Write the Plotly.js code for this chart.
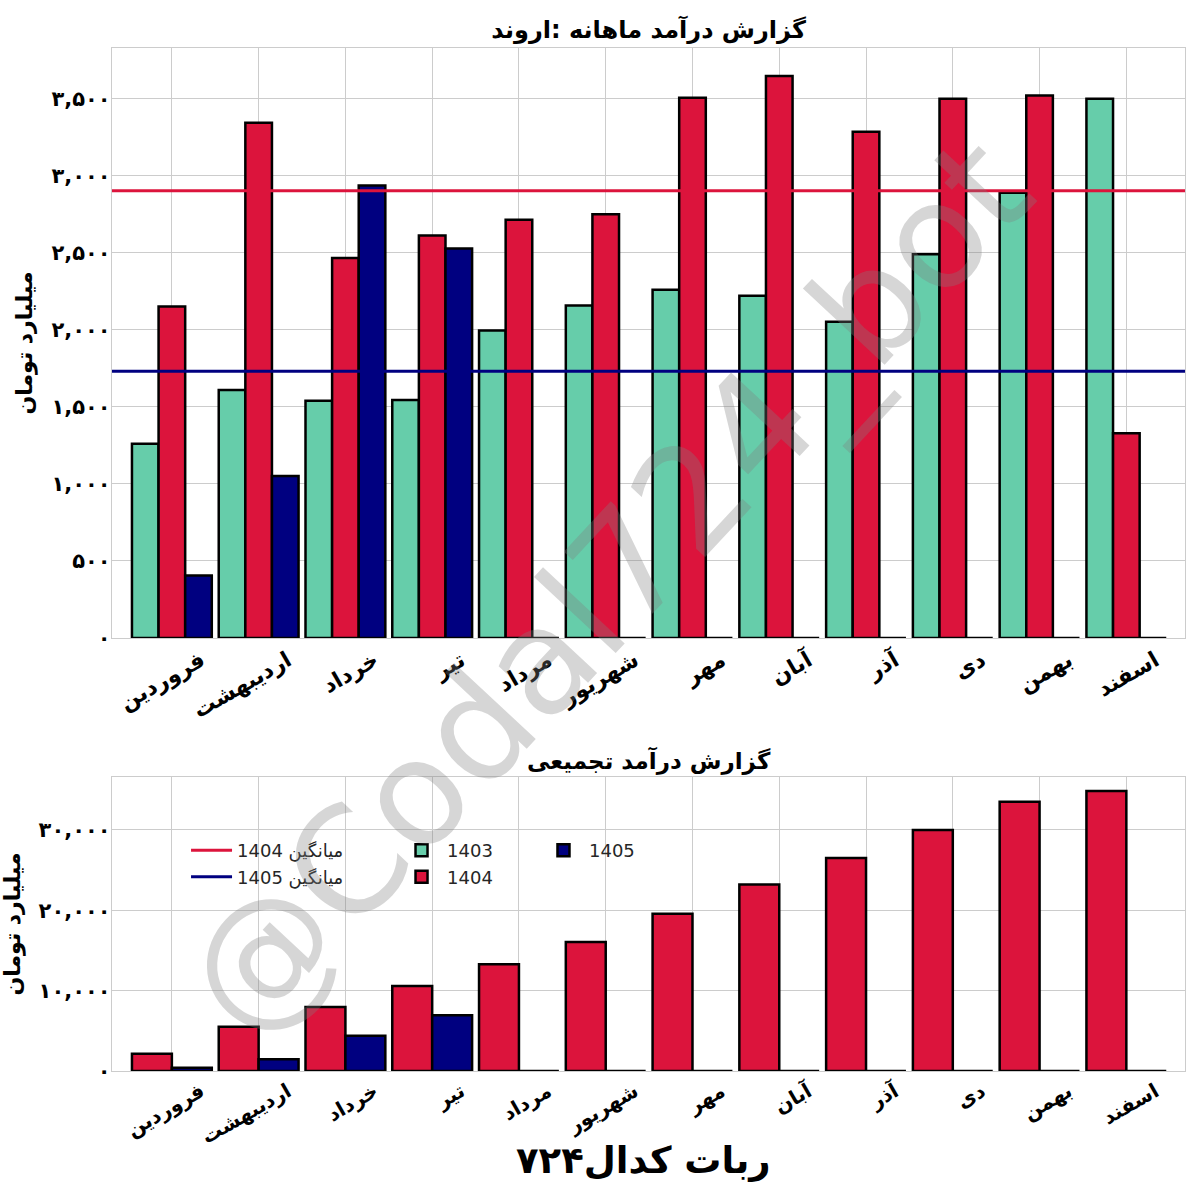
<!DOCTYPE html>
<html>
<head>
<meta charset="utf-8">
<script src="https://cdn.plot.ly/plotly-3.0.1.min.js"></script>
<style>
  html, body { margin: 0; padding: 0; background: #ffffff; }
  #chart { width: 1200px; height: 1200px; }
</style>
</head>
<body>
<div id="chart"></div>
<script>
// ---------- data ----------
var months = ['فروردین', 'اردیبهشت', 'خرداد', 'تیر', 'مرداد', 'شهریور', 'مهر', 'آبان', 'آذر', 'دی', 'بهمن', 'اسفند'];

var rev1403 = [1260, 1610, 1539, 1545, 1996, 2158, 2260, 2221, 2052, 2491, 2890, 3500];
var rev1404 = [2151, 3344, 2467, 2612, 2714, 2751, 3506, 3647, 3286, 3500, 3521, 1329];
var rev1405 = [405, 1052, 2937, 2528, 0, 0, 0, 0, 0, 0, 0, 0];

var cum1404 = [2151, 5495, 7962, 10574, 13288, 16039, 19545, 23192, 26478, 29978, 33499, 34828];
var cum1405 = [405, 1457, 4394, 6922, 0, 0, 0, 0, 0, 0, 0, 0];

var yTickVals1 = [0, 500, 1000, 1500, 2000, 2500, 3000, 3500];
var yTickText1 = ['۰', '۵۰۰', '۱,۰۰۰', '۱,۵۰۰', '۲,۰۰۰', '۲,۵۰۰', '۳,۰۰۰', '۳,۵۰۰'];
var yTickVals2 = [0, 10000, 20000, 30000];
var yTickText2 = ['۰', '۱۰,۰۰۰', '۲۰,۰۰۰', '۳۰,۰۰۰'];

var seriesNames = ['1403', '1404', '1405'];
var avgNames = ['میانگین 1404', 'میانگین 1405'];

var titleTop = 'گزارش درآمد ماهانه :اروند';
var titleBottom = 'گزارش درآمد تجمیعی';
var yTitle = 'میلیارد تومان';
var caption = 'ربات کدال۷۲۴';
var watermark = '@Codal724_bot';

// ---------- derived statistics ----------
function mean(arr) {
  var v = arr.filter(function (d) { return d > 0; });
  return v.reduce(function (a, b) { return a + b; }, 0) / v.length;
}
var avg1404 = mean(rev1404);
var avg1405 = mean(rev1405);

// ---------- style ----------
var FONT = 'DejaVu Sans';
var C1403 = '#66cdaa', C1404 = '#dc143c', C1405 = '#000080';
var edge = { color: '#000000', width: 2.5 };

var traces = [
  { type: 'bar', x: months, y: rev1403, name: seriesNames[0], legend: 'legend2',
    marker: { color: C1403, line: edge }, xaxis: 'x', yaxis: 'y' },
  { type: 'bar', x: months, y: rev1404, name: seriesNames[1], legend: 'legend2',
    marker: { color: C1404, line: edge }, xaxis: 'x', yaxis: 'y' },
  { type: 'bar', x: months, y: rev1405, name: seriesNames[2], legend: 'legend3',
    marker: { color: C1405, line: edge }, xaxis: 'x', yaxis: 'y' },
  { type: 'bar', x: months, y: cum1404, name: seriesNames[1], showlegend: false,
    marker: { color: C1404, line: edge }, xaxis: 'x2', yaxis: 'y2' },
  { type: 'bar', x: months, y: cum1405, name: seriesNames[2], showlegend: false,
    marker: { color: C1405, line: edge }, xaxis: 'x2', yaxis: 'y2' }
];

var gridC = '#cccccc';
var xCommon = {
  type: 'category', range: [-0.69, 11.676], showgrid: true, gridcolor: gridC, gridwidth: 1,
  showline: true, mirror: true, linecolor: gridC, linewidth: 1.25, ticks: '',
  tickangle: -30, ticklabelshift: 29, zeroline: false,
  tickfont: { family: FONT, size: 22, color: '#000000', weight: 'bold' }
};
var yCommon = {
  showgrid: true, gridcolor: gridC, gridwidth: 1, zeroline: false,
  showline: true, mirror: true, linecolor: gridC, linewidth: 1.25, ticks: '',
  tickmode: 'array', ticklabelstandoff: -4,
  tickfont: { family: FONT, size: 21, color: '#000000', weight: 'bold' },
  title: { text: yTitle, standoff: 12, font: { family: FONT, size: 22, color: '#000000', weight: 'bold' } }
};

function merge(a, b) { var o = {}; for (var k in a) o[k] = a[k]; for (var k2 in b) o[k2] = b[k2]; return o; }

var legendBase = {
  orientation: 'v', xanchor: 'left', yanchor: 'top', bgcolor: 'rgba(0,0,0,0)',
  borderwidth: 0, itemwidth: 41, tracegroupgap: 0,
  font: { family: FONT, size: 18, color: '#262626' }
};

var layout = {
  width: 1200, height: 1200,
  paper_bgcolor: '#ffffff', plot_bgcolor: '#ffffff',
  margin: { l: 112, r: 15, t: 48, b: 129 },
  barmode: 'group', bargap: 0.08, bargroupgap: 0,
  showlegend: true,
  title: { text: titleTop, x: 0.5, xref: 'paper', y: 1 - 30 / 1200, yref: 'container', yanchor: 'middle',
    font: { family: FONT, size: 24, color: '#000000', weight: 'bold' } },
  xaxis: merge(xCommon, { anchor: 'y', domain: [0, 1] }),
  yaxis: merge(yCommon, { anchor: 'x', domain: [0.4233, 1], range: [0, Math.max.apply(null, rev1404.concat(rev1403, rev1405)) * 1.05],
    tickvals: yTickVals1, ticktext: yTickText1 }),
  xaxis2: merge(xCommon, { anchor: 'y2', domain: [0, 1],
    tickfont: { family: FONT, size: 20, color: '#000000', weight: 'bold' } }),
  yaxis2: merge(yCommon, { anchor: 'x2', domain: [0, 0.2874], range: [0, Math.max.apply(null, cum1404.concat(cum1405)) * 1.05],
    tickvals: yTickVals2, ticktext: yTickText2 }),
  legend: merge(legendBase, { x: 0.069, y: 0.2336, xref: 'paper', yref: 'paper' }),
  legend2: merge(legendBase, { x: 0.2647, y: 0.2336, xref: 'paper', yref: 'paper' }),
  legend3: merge(legendBase, { x: 0.397, y: 0.2336, xref: 'paper', yref: 'paper' }),
  shapes: [
    { type: 'line', xref: 'x domain', x0: 0, x1: 1, yref: 'y', y0: avg1404, y1: avg1404,
      line: { color: C1404, width: 3 }, layer: 'above', showlegend: true, name: avgNames[0], legend: 'legend' },
    { type: 'line', xref: 'x domain', x0: 0, x1: 1, yref: 'y', y0: avg1405, y1: avg1405,
      line: { color: C1405, width: 3 }, layer: 'above', showlegend: true, name: avgNames[1], legend: 'legend' }
  ],
  annotations: [
    { text: titleBottom, xref: 'paper', yref: 'paper', x: 0.5, y: 0.304, xanchor: 'center', yanchor: 'middle',
      showarrow: false, font: { family: FONT, size: 23, color: '#000000', weight: 'bold' } },
    { text: caption, xref: 'paper', yref: 'paper', x: 0.495, y: -0.087, xanchor: 'center', yanchor: 'middle',
      showarrow: false, font: { family: FONT, size: 37, color: '#000000', weight: 'bold' } },
    { text: watermark, xref: 'paper', yref: 'paper', x: 0.462, y: 0.473, xanchor: 'center', yanchor: 'middle',
      showarrow: false, textangle: -47, font: { family: FONT, size: 147, color: 'rgba(128,128,128,0.32)' } }
  ]
};

Plotly.newPlot('chart', traces, layout, { displayModeBar: false, responsive: false });
</script>
</body>
</html>
